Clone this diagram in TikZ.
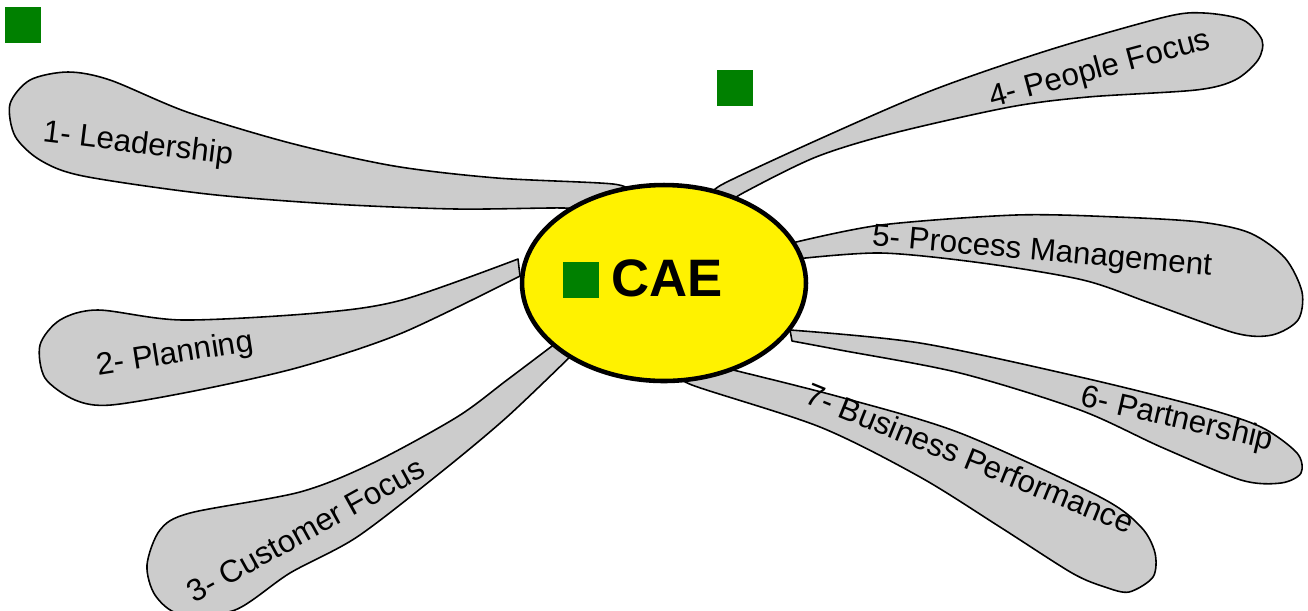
\documentclass[tikz,border=0pt]{standalone}
\usepackage{fontspec}
\setmainfont{Liberation Sans}
\usetikzlibrary{shapes.geometric}
\definecolor{sqgreen}{RGB}{0,128,0}

\begin{document}
\begin{tikzpicture}[x=0.02cm,y=-0.02cm,
  petal/.style={draw,fill=gray!40,line width=0.9pt,line join=round},
  lbl/.style={inner sep=0,font=\fontsize{17.8}{20}\selectfont},
  greensq/.style={fill=sqgreen,minimum size=0.72cm,inner sep=0}]
  \useasboundingbox (0,0) rectangle (1308,610);

  % petals, base end hidden under the ellipse
  \draw[petal] plot[smooth] coordinates {(632,193) (613,184) (497,178) (394,166) (290,143) (187,112) (110,80) (68,72) (30,80) (10,104) (15,136) (40,160) (83,176) (207,194) (332,204) (456,209) (564,208) (585,212)} -- cycle;
  \draw[petal] plot[smooth] coordinates {(518,259) (402,300) (317,313) (182,320) (98,310) (60,320) (40,345) (45,378) (75,400) (111,405) (199,390) (300,367) (402,333) (520,276)} -- cycle;
  \draw[petal] plot[smooth] coordinates {(560,340) (507,380) (457,417) (373,463) (300,492) (190,513) (160,530) (147,565) (155,595) (180,614) (235,610) (290,573) (357,537) (440,473) (507,417) (575,352)} -- cycle;
  \draw[petal] plot[smooth] coordinates {(712,196) (723,184) (824,137) (933,90) (1049,50) (1165,17) (1204,13) (1243,20) (1262,40) (1258,60) (1235,80) (1196,90) (1088,97) (1010,107) (894,133) (816,157) (743,193) (728,204)} -- cycle;
  \draw[petal] plot[smooth] coordinates {(792,243) (881,225) (1016,215) (1117,217) (1200,222) (1250,233) (1285,258) (1302,292) (1298,320) (1272,335) (1235,333) (1150,303) (1083,280) (982,263) (881,253) (796,259)} -- cycle;
  \draw[petal] plot[smooth] coordinates {(790,330) (920,343) (1080,377) (1201,407) (1261,427) (1297,453) (1301,473) (1281,483) (1241,480) (1161,447) (1080,410) (960,373) (840,350) (792,341)} -- cycle;
  \draw[petal] plot[smooth] coordinates {(725,368) (840,397) (960,433) (1100,497) (1141,527) (1155,553) (1153,577) (1129,592) (1105,587) (1072,573) (1000,527) (920,477) (820,427) (692,385) (682,374)} -- cycle;

  % centre
  \node[ellipse,draw,line width=2.6pt,fill=yellow,minimum width=5.68cm,minimum height=3.92cm] (cae) at (664,283) {};
  \node[inner sep=0,font=\fontsize{30}{36}\selectfont\bfseries] (caetext) at (667,278.5) {CAE};

  \foreach \x/\y [count=\i] in {23/24.5, 734.5/87.5, 580.5/279.5}
    \node[greensq] (sq\i) at (\x,\y) {};

  \foreach \x/\y/\a/\t [count=\i] in {138/145/-7/1- Leadership, 175/355/9/2- Planning,
      306/530/29/3- Customer Focus, 1100/70/15/4- People Focus,
      1042/253/-5/5- Process Management, 1177/420/-13/6- Partnership,
      970/458/-22/7- Business Performance}
    \node[lbl,rotate=\a] (lbl\i) at (\x,\y) {\t};
\end{tikzpicture}
\end{document}
